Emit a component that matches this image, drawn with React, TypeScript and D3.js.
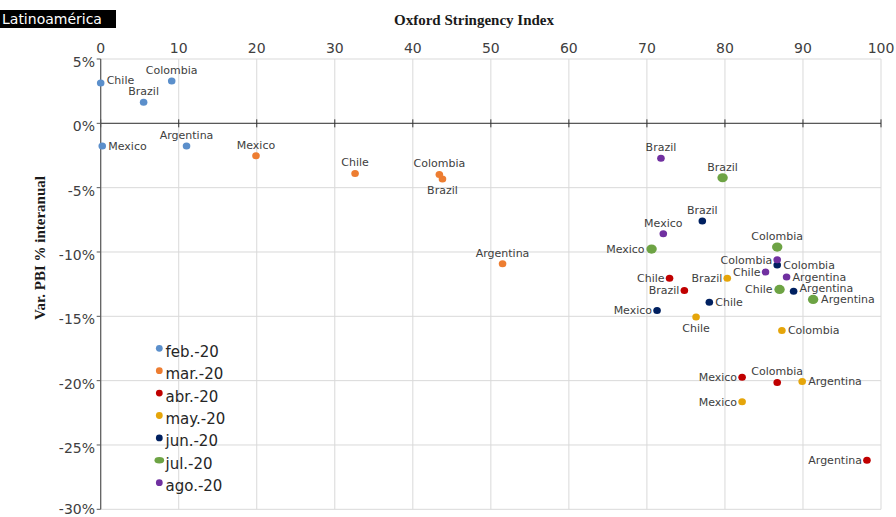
import * as d3 from "d3";

// months of the series (legend order)
const months = ["feb.-20", "mar.-20", "abr.-20", "may.-20", "jun.-20", "jul.-20", "ago.-20"];
const monthColors = ["#5b8fcb", "#ed7d31", "#c00000", "#e5a50a", "#002060", "#6da344", "#7030a0"];

const countries = ["Argentina", "Brazil", "Chile", "Colombia", "Mexico"];

// Oxford Stringency Index, per month, in the order of `countries`
const stringency: number[][] = [
  [11.0, 5.5, 0.0, 9.1, 0.2],
  [51.5, 43.8, 32.6, 43.4, 19.9],
  [98.2, 74.8, 72.9, 86.7, 82.2],
  [89.9, 80.3, 76.3, 87.3, 82.2],
  [88.8, 77.1, 78.0, 86.7, 71.3],
  [91.3, 79.7, 87.0, 86.7, 70.6],
  [87.9, 71.8, 85.2, 86.7, 72.1],
];

// Var. PBI % interanual, per month, same order
const gdpChange: number[][] = [
  [-1.77, 1.63, 3.13, 3.29, -1.77],
  [-10.92, -4.33, -3.89, -3.97, -2.52],
  [-26.18, -12.99, -12.05, -20.14, -19.73],
  [-20.06, -12.05, -15.06, -16.1, -21.65],
  [-13.06, -7.6, -13.9, -11.02, -14.54],
  [-13.69, -4.23, -12.91, -9.62, -9.77],
  [-11.95, -2.72, -11.56, -10.61, -8.58],
];

// where each point's label sits: t = top, r = right, ru = right/raised, l = left, b = bottom
const labelSide: string[][] = [
  ["t", "t", "ru", "t", "r"],
  ["t", "b", "t", "t", "t"],
  ["l", "l", "l", "t", "l"],
  ["r", "l", "b", "r", "l"],
  ["ru", "t", "r", "r", "l"],
  ["r", "t", "l", "t", "l"],
  ["r", "t", "l", "l", "t"],
];

const xTicks = d3.range(0, 101, 10);
const yTicks = d3.range(5, -31, -5);

const sans = "'DejaVu Sans', sans-serif";
const serif = "'Liberation Serif', 'Times New Roman', serif";

export default function App() {
  const width = 896;
  const height = 517;
  const left = 100.7;
  const right = 881;
  const top = 59;
  const bottom = 509.3;

  const x = d3.scaleLinear().domain([0, 100]).range([left, right]);
  const y = d3.scaleLinear().domain([5, -30]).range([top, bottom]);

  const grid = "#d9d9d9";
  const axis = "#595959";
  const labelColor = "#404040";

  const points = months.flatMap((m, mi) =>
    countries.map((c, ci) => ({
      month: m,
      mi,
      country: c,
      sx: stringency[mi][ci],
      gy: gdpChange[mi][ci],
      side: labelSide[mi][ci],
    }))
  );

  const labelAttrs = (side: string, isBig: boolean) => {
    const gap = isBig ? 7 : 5;
    if (side === "t") return { dx: 0, dy: -7, anchor: "middle" };
    if (side === "b") return { dx: 0, dy: 15, anchor: "middle" };
    if (side === "l") return { dx: -gap, dy: 4, anchor: "end" };
    if (side === "ru") return { dx: gap + 1, dy: 1, anchor: "start" };
    return { dx: gap + 1, dy: 4, anchor: "start" };
  };

  return (
    <svg
      width={width}
      height={height}
      style={{ position: "absolute", left: 0, top: 0, background: "#fff" }}
    >
      {/* header box */}
      <rect x={0} y={10} width={116} height={18} fill="#000" />
      <text x={2} y={24} fill="#fff" fontFamily={sans} fontSize={14}>
        Latinoamérica
      </text>

      {/* grid */}
      {xTicks.map((t) => (
        <line key={"gx" + t} x1={x(t)} x2={x(t)} y1={top} y2={bottom} stroke={grid} />
      ))}
      {yTicks.map((t) => (
        <line key={"gy" + t} x1={left} x2={right} y1={y(t)} y2={y(t)} stroke={grid} />
      ))}

      {/* axes */}
      <line x1={left} x2={right} y1={y(0)} y2={y(0)} stroke={axis} strokeWidth={1.2} />
      {xTicks.map((t) => (
        <line key={"tx" + t} x1={x(t)} x2={x(t)} y1={y(0) - 4} y2={y(0) + 4} stroke="#333" />
      ))}
      <line x1={left} x2={left} y1={top} y2={bottom} stroke={axis} strokeWidth={1.2} />
      {yTicks.map((t) => (
        <line key={"ty" + t} x1={left - 4} x2={left} y1={y(t)} y2={y(t)} stroke={axis} />
      ))}

      {/* tick labels */}
      {xTicks.map((t) => (
        <text
          key={"lx" + t}
          x={x(t)}
          y={53}
          textAnchor="middle"
          fontFamily={sans}
          fontSize={14}
          fill={labelColor}
        >
          {t}
        </text>
      ))}
      {yTicks.map((t) => (
        <text
          key={"ly" + t}
          x={95}
          y={Math.min(y(t) + 8, 514)}
          textAnchor="end"
          fontFamily={sans}
          fontSize={14}
          fill={labelColor}
        >
          {t + "%"}
        </text>
      ))}

      {/* titles */}
      <text
        x={474}
        y={25}
        textAnchor="middle"
        fontFamily={serif}
        fontWeight="bold"
        fontSize={15}
        fill="#1a1a1a"
      >
        Oxford Stringency Index
      </text>
      <text
        transform={`translate(45,248) rotate(-90)`}
        textAnchor="middle"
        fontFamily={serif}
        fontWeight="bold"
        fontSize={15}
        fill="#1a1a1a"
      >
        Var. PBI % interanual
      </text>

      {/* points */}
      {points.map((p) => {
        const big = p.mi === 5;
        return (
          <ellipse
            key={"p" + p.month + p.country}
            cx={x(p.sx)}
            cy={y(p.gy)}
            rx={big ? 5.2 : 3.8}
            ry={big ? 4.6 : 3.5}
            fill={monthColors[p.mi]}
          />
        );
      })}

      {/* point labels */}
      {points.map((p) => {
        const a = labelAttrs(p.side, p.mi === 5);
        return (
          <text
            key={"t" + p.month + p.country}
            x={x(p.sx) + a.dx}
            y={y(p.gy) + a.dy}
            textAnchor={a.anchor}
            fontFamily={sans}
            fontSize={11}
            fill={labelColor}
          >
            {p.country}
          </text>
        );
      })}

      {/* legend */}
      {months.map((m, i) => {
        const ly = 348.3 + i * 22.4;
        return (
          <g key={"lg" + m}>
            <ellipse
              cx={159.3}
              cy={ly}
              rx={i === 5 ? 4.8 : 3.4}
              ry={i === 5 ? 3.2 : 3.4}
              fill={monthColors[i]}
            />
            <text x={165.5} y={ly + 8.5} fontFamily={sans} fontSize={15} fill="#262626">
              {m}
            </text>
          </g>
        );
      })}
    </svg>
  );
}
